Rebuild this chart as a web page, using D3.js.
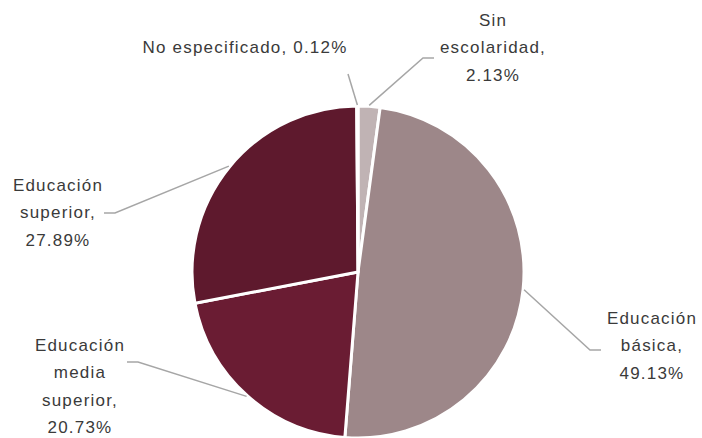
<!DOCTYPE html>
<html><head><meta charset="utf-8">
<script src="https://cdn.jsdelivr.net/npm/d3@7"></script>
<style>html,body{margin:0;padding:0;background:#fff;} svg{display:block;}</style>
</head><body>
<svg id="chart" width="702" height="438"></svg>
<script>
const categories = ["Sin escolaridad", "Educación básica", "Educación media superior", "Educación superior", "No especificado"];
const values = [2.13, 49.13, 20.73, 27.89, 0.12];
const labelLines = [
  ["Sin", "escolaridad,", "2.13%"],
  ["Educación", "básica,", "49.13%"],
  ["Educación", "media", "superior,", "20.73%"],
  ["Educación", "superior,", "27.89%"],
  ["No especificado, 0.12%"]
];
const colors = ["#c0b3b4", "#9d8789", "#6a1c33", "#5e192d", "#c0b3b4"];

// label layout: text center x, first baseline y, elbow point, end of horizontal
const layout = [
  {tx: 493, ty: 26, elbow: [423, 58], end: [434, 58]},
  {tx: 652, ty: 324, elbow: [590, 350], end: [601, 350]},
  {tx: 80, ty: 351, elbow: [138, 362], end: [127, 362]},
  {tx: 58, ty: 191, elbow: [115, 213], end: [104, 213]},
  {tx: 245, ty: 53, elbow: [348, 74], end: [348, 74]}
];

const svg = d3.select("#chart");
const cx = 358, cy = 272, r = 166;
const g = svg.append("g").attr("transform", `translate(${cx},${cy})`);

const pie = d3.pie().sort(null).value(d => d);
const arcs = pie(values);
const arc = d3.arc().innerRadius(0).outerRadius(r);

g.selectAll("path.slice").data(arcs).enter().append("path")
  .attr("class", "slice")
  .attr("d", arc)
  .attr("fill", (d, i) => colors[i])
  .attr("stroke", "#fff")
  .attr("stroke-width", 3)
  .attr("stroke-linejoin", "round");

// leader lines
arcs.forEach((a, i) => {
  const mid = (a.startAngle + a.endAngle) / 2;
  const sx = cx + (r + 1) * Math.sin(mid);
  const sy = cy - (r + 1) * Math.cos(mid);
  const L = layout[i];
  const pts = [[sx, sy], L.elbow, L.end];
  svg.append("path")
    .attr("d", d3.line()(pts))
    .attr("fill", "none")
    .attr("stroke", "#a6a6a6")
    .attr("stroke-width", 1.5);
});

// labels
labelLines.forEach((lines, i) => {
  const L = layout[i];
  const t = svg.append("text")
    .attr("x", L.tx).attr("y", L.ty)
    .attr("text-anchor", "middle")
    .attr("font-family", "'Liberation Sans', Arial, sans-serif")
    .attr("font-size", 17)
    .attr("letter-spacing", 1.2)
    .attr("fill", "#3a3a3a");
  lines.forEach((ln, j) => {
    t.append("tspan").attr("x", L.tx).attr("dy", j === 0 ? 0 : 27.3).text(ln);
  });
});
</script>
</body></html>
